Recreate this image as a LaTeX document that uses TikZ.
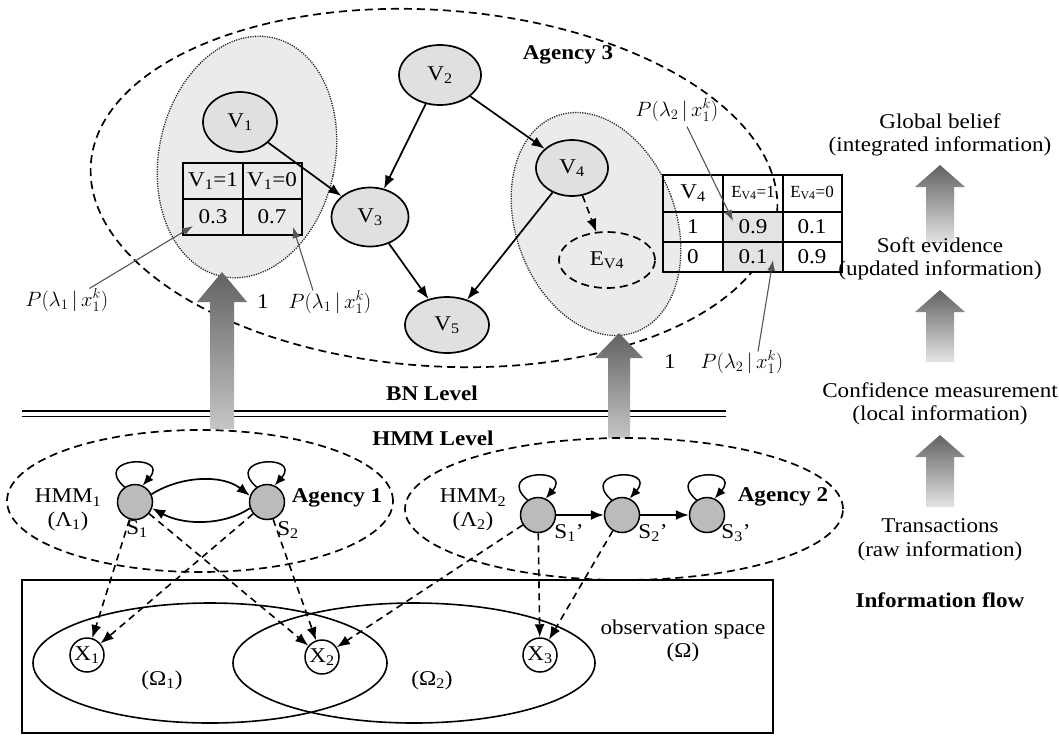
\documentclass[tikz,border=0pt]{standalone}
\usepackage{fontspec}
\setmainfont{Liberation Serif}[FakeStretch=1.1]
\newfontfamily\tblfont{Liberation Serif}
\usetikzlibrary{arrows.meta,shapes.geometric,calc}
\definecolor{ardark}{HTML}{626262}
\definecolor{arlight}{HTML}{E4E4E4}
\definecolor{bnfill}{HTML}{E0E0E0}
\definecolor{grpfill}{HTML}{EBEBEB}
\definecolor{stfill}{HTML}{BBBBBB}
\definecolor{anncol}{HTML}{555555}
\begin{document}
\begin{tikzpicture}[x=1pt,y=-1pt,
  font=\fontsize{21}{23.5}\selectfont,
  blk/.style={line width=1.7pt,-{Latex[length=13pt,width=10pt]}},
  dblk/.style={line width=1.6pt,dash pattern=on 7pt off 5pt,-{Latex[length=13pt,width=10pt]}},
  bnnode/.style={ellipse,draw,line width=1.7pt,fill=bnfill,minimum width=78pt,minimum height=58pt,inner sep=0pt},
  stnode/.style={circle,draw,line width=1.5pt,fill=stfill,minimum size=35pt,inner sep=0pt},
  obnode/.style={circle,draw,line width=1.5pt,fill=white,minimum size=34pt,inner sep=0pt},
  dsh/.style={line width=1.7pt,dash pattern=on 8pt off 5pt},
  dotl/.style={line width=1.3pt,dash pattern=on 1.2pt off 1.2pt,draw=black!85},
  ann/.style={draw=anncol,line width=1.1pt,-{Latex[length=11pt,width=8pt]}},
  lbl/.style={inner sep=1pt},
  bld/.style={inner sep=1pt,font=\fontsize{21}{23.5}\selectfont\bfseries},
  tbl/.style={line width=1.8pt},
  tcell/.style={inner sep=0pt},
  hcell/.style={inner sep=0pt,font=\fontsize{17}{19}\tblfont},
  bigarrow/.style={top color=ardark,bottom color=arlight,draw=none},
]
\useasboundingbox (0,0) rectangle (1059,737);
\fill[white] (0,0) rectangle (1059,737);

% ---------------- BN level ----------------
\draw[dsh,rotate around={-4:(434,188)}] (434,188) ellipse [x radius=344pt, y radius=178pt];
\filldraw[dotl,fill=grpfill,rotate around={-12:(247,157)}] (247,157) ellipse [x radius=88pt, y radius=122pt];
\filldraw[dotl,fill=grpfill,rotate around={20:(596,224)}] (596,224) ellipse [x radius=80pt, y radius=115pt];

\node[bld] (ag3) at (568,55) {Agency 3};

\node[bnnode,minimum width=74pt,minimum height=60pt] (V1) at (240,122) {V\textsubscript{1}};
\node[bnnode,minimum width=82pt,minimum height=60pt] (V2) at (440,75) {V\textsubscript{2}};
\node[bnnode,minimum width=77pt,minimum height=59pt] (V3) at (370,217) {V\textsubscript{3}};
\node[bnnode,minimum width=72pt,minimum height=56pt] (V4) at (572,168) {V\textsubscript{4}};
\node[bnnode,minimum width=84pt,minimum height=56pt] (V5) at (447,325) {V\textsubscript{5}};
\node[ellipse,draw,dsh,minimum width=96pt,minimum height=56pt,inner sep=0pt] (EV4) at (607,260) {E\textsubscript{V4}};

\draw[blk] (V1) -- (V3);
\draw[blk] (V2) -- (V3);
\draw[blk] (V2) -- (V4);
\draw[blk] (V3) -- (V5);
\draw[blk] (V4) -- (V5);
\draw[dblk] (V4) -- (EV4);

% table 1
\draw[tbl] (183,163) rectangle (302,235);
\draw[tbl] (243,163) -- (243,235);
\draw[tbl] (183,199) -- (302,199);
\node[tcell] (t1a) at (213,181) {V\textsubscript{1}=1};
\node[tcell] (t1b) at (272,181) {V\textsubscript{1}=0};
\node[tcell] (t1c) at (213,217) {0.3};
\node[tcell] (t1d) at (272,217) {0.7};

% table 2
\fill[gray!22] (723,212) rectangle (783,272);
\draw[tbl] (663,175) rectangle (842,272);
\draw[tbl] (723,175) -- (723,272);
\draw[tbl] (783,175) -- (783,272);
\draw[tbl] (663,212) -- (842,212);
\draw[tbl] (663,242) -- (842,242);
\node[tcell] (t2a) at (693,193) {V\textsubscript{4}};
\node[hcell] (t2b) at (753,193) {E\textsubscript{V4}=1};
\node[hcell] (t2c) at (812,193) {E\textsubscript{V4}=0};
\node[tcell] (t2d) at (693,227) {1};
\node[tcell] (t2e) at (753,227) {0.9};
\node[tcell] (t2f) at (812,227) {0.1};
\node[tcell] (t2g) at (693,257) {0};
\node[tcell] (t2h) at (753,257) {0.1};
\node[tcell] (t2i) at (812,257) {0.9};

% annotations
\node[lbl] (p1) at (67,300) {$P(\lambda_1\,|\,x_1^k)$};
\node[lbl] (one1) at (263,302) {1};
\node[lbl] (p2) at (330,302) {$P(\lambda_1\,|\,x_1^k)$};
\node[lbl] (p3) at (677,110) {$P(\lambda_2\,|\,x_1^k)$};
\node[lbl] (one2) at (670,362) {1};
\node[lbl] (p4) at (742,362) {$P(\lambda_2\,|\,x_1^k)$};
\coordinate (c1) at (193,226);
\coordinate (c2) at (293,227);
\coordinate (c3) at (733,221);
\coordinate (c4) at (773,260);
\draw[ann] ($(p1.north east)+(-20,1)$) -- (c1);
\draw[ann] ($(p2.north)+(-17,1)$) -- (c2);
\draw[ann] ($(p3.south)+(10,4)$) -- (c3);
\draw[ann] ($(p4.north)+(16,2)$) -- (c4);

% ---------------- level separator ----------------
\draw[line width=1.8pt] (22,411) -- (726,411);
\draw[line width=1.8pt] (22,416.5) -- (726,416.5);
\node[bld] (bnl) at (432,393) {BN Level};
\node[bld] (hmml) at (433,438) {HMM Level};

% big gray arrows
\shade[bigarrow,bottom color=gray!45] (222,272) -- (247,302) -- (234,302) -- (234,429) -- (210,429) -- (210,302) -- (197,302) -- cycle;
\shade[bigarrow,bottom color=gray!45] (619,333) -- (643,358) -- (630,358) -- (630,438) -- (608,438) -- (608,358) -- (595,358) -- cycle;

% ---------------- HMM level ----------------
\draw[dsh] (200,501) ellipse [x radius=193pt, y radius=71pt];
\draw[dsh] (624,509) ellipse [x radius=219pt, y radius=71pt];

\node[lbl,align=center] (hmm1) at (68,510) {HMM\textsubscript{1}\\(Λ\textsubscript{1})};
\node[lbl,align=center] (hmm2) at (473,510) {HMM\textsubscript{2}\\(Λ\textsubscript{2})};
\node[bld] (ag1) at (337,498) {Agency 1};
\node[bld] (ag2) at (783,497) {Agency 2};

\node[stnode] (S1) at (135,502) {};
\node[stnode] (S2) at (267,502) {};
\node[stnode] (Sa) at (538,515) {};
\node[stnode] (Sb) at (622,515) {};
\node[stnode] (Sc) at (707,515) {};
\node[lbl] (lS1) at (137,529) {S\textsubscript{1}};
\node[lbl] (lS2) at (288,530) {S\textsubscript{2}};
\node[lbl] (lSa) at (569,533) {S\textsubscript{1}'};
\node[lbl] (lSb) at (653,533) {S\textsubscript{2}'};
\node[lbl] (lSc) at (736,533) {S\textsubscript{3}'};

\foreach \n in {S1,S2,Sa,Sb,Sc}{
  \draw[line width=1.5pt,-{Latex[length=11pt,width=9pt]}] (\n.125) .. controls +(-34,-30) and +(28,-32) .. (\n.65);
}
\draw[blk] (S1.25) .. controls (180,476) and (222,474) .. (S2.160);
\draw[blk] (S2.200) .. controls (225,525) and (185,526) .. (S1.340);
\draw[blk] (Sa) -- (Sb);
\draw[blk] (Sb) -- (Sc);

% ---------------- observation space ----------------
\draw[line width=1.7pt] (22,580) rectangle (773,733);
\draw[line width=1.6pt] (210,663) ellipse [x radius=177pt, y radius=60pt];
\draw[line width=1.6pt] (414,663) ellipse [x radius=181pt, y radius=60pt];
\node[obnode] (X1) at (87,655) {X\textsubscript{1}};
\node[obnode] (X2) at (322,657) {X\textsubscript{2}};
\node[obnode] (X3) at (540,655) {X\textsubscript{3}};
\node[lbl] (om1) at (162,680) {(Ω\textsubscript{1})};
\node[lbl] (om2) at (432,680) {(Ω\textsubscript{2})};
\node[lbl,align=center] (obs) at (683,641) {observation space\\(Ω)};

\draw[dblk] (S1) -- (X1);
\draw[dblk] (S1) -- (X2);
\draw[dblk] (S2) -- (X1);
\draw[dblk] (S2) -- (X2);
\draw[dblk] (Sa) -- (X2);
\draw[dblk] (Sa) -- (X3);
\draw[dblk] (Sb) -- (X3);

% ---------------- information flow ----------------
\shade[bigarrow] (940,165) -- (965,187) -- (954,187) -- (954,243) -- (926,243) -- (926,187) -- (915,187) -- cycle;
\shade[bigarrow] (940,290) -- (965,312) -- (954,312) -- (954,362) -- (926,362) -- (926,312) -- (915,312) -- cycle;
\shade[bigarrow] (940,435) -- (965,457) -- (954,457) -- (954,507) -- (926,507) -- (926,457) -- (915,457) -- cycle;
\node[lbl,align=center] (gb) at (940,135) {Global belief\\(integrated information)};
\node[lbl,align=center] (se) at (940,259) {Soft evidence\\(updated information)};
\node[lbl,align=center] (cm) at (940,404) {Confidence measurement\\(local information)};
\node[lbl,align=center] (tr) at (940,540) {Transactions\\(raw information)};
\node[bld] (inf) at (940,600) {Information flow};
\end{tikzpicture}
\end{document}
